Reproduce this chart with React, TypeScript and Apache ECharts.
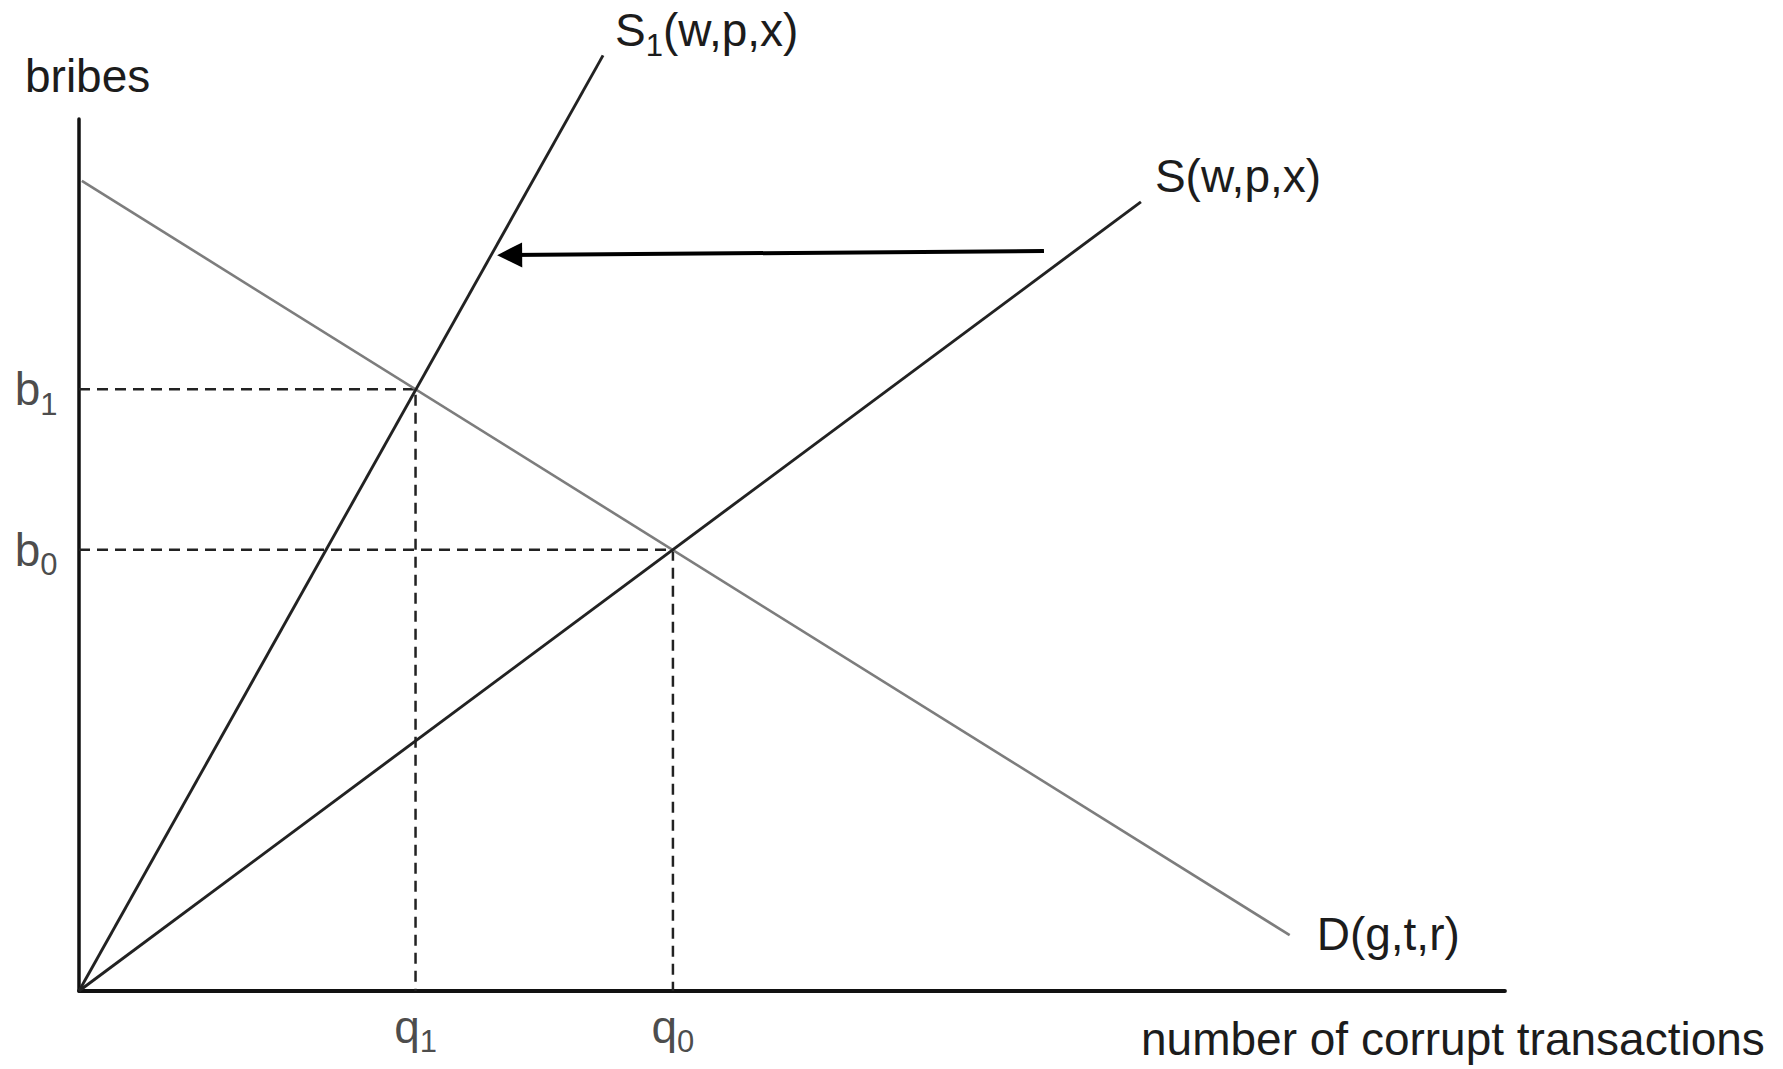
import React, { useEffect, useRef } from "react";
import * as echarts from "echarts";

// ---- data (abstract units: x 0..100, y 0..100) ----
const equilibriumQ = [23.6, 41.65]; // q1, q0
const equilibriumB = [69.0, 50.6]; // b1, b0
const qTickLabels = ["q1", "q0"];
const bTickLabels = ["b1", "b0"];
const demandPoints = [
  [0.2, 92.9],
  [84.9, 6.4],
];
const supplyPoints = [
  [0, 0],
  [74.47, 90.5],
];
const supply1Points = [
  [0, 0],
  [36.75, 107.3],
];
const shiftArrow = [
  [67.67, 84.86],
  [30.2, 84.4],
];
const curveLabels = { s1: ["S", "1", "(w,p,x)"], s: ["S", "", "(w,p,x)"], d: ["D", "", "(g,t,r)"] };
const axisNames = { x: "number of corrupt transactions", y: "bribes" };

const FONT = "Liberation Sans";
const INK = "#1c1c1c";

const rich = {
  m: { fontSize: 46, fontFamily: FONT, color: INK, lineHeight: 52 },
  s: { fontSize: 31, fontFamily: FONT, color: INK, lineHeight: 52, padding: [30, 0, 0, 0] },
};

const fmt = (parts: string[]) =>
  `{m|${parts[0]}}` + (parts[1] ? `{s|${parts[1]}}` : "") + (parts[2] ? `{m|${parts[2]}}` : "");

export default function App() {
  const ref = useRef<HTMLDivElement>(null);
  useEffect(() => {
    document.body.style.margin = "0";
    if (!ref.current) return;
    const chart = echarts.init(ref.current, undefined, { renderer: "svg" });
    const dashStyle = { color: "#222", width: 2.5, type: [11, 7] as any };
    const option: any = {
      animation: false,
      backgroundColor: "#fff",
      textStyle: { fontFamily: FONT },
      grid: { left: 79, right: 278, top: 119, bottom: 78 },
      xAxis: {
        type: "value",
        min: 0,
        max: 100,
        axisLine: { show: true, lineStyle: { color: "#111", width: 3.8 } },
        axisTick: { show: false },
        axisLabel: { show: false },
        splitLine: { show: false },
      },
      yAxis: {
        type: "value",
        min: 0,
        max: 100,
        axisLine: { show: true, lineStyle: { color: "#111", width: 3.5 } },
        axisTick: { show: false },
        axisLabel: { show: false },
        splitLine: { show: false },
      },
      graphic: [
        {
          type: "text",
          x: 25,
          y: 76,
          style: { text: axisNames.y, font: `46px "${FONT}"`, fill: INK, align: "left", verticalAlign: "middle" },
        },
        {
          type: "text",
          x: 1141,
          y: 1039,
          style: { text: axisNames.x, font: `46px "${FONT}"`, fill: INK, align: "left", verticalAlign: "middle" },
        },
      ],
      series: [
        {
          name: "b1 guide",
          type: "line",
          data: [
            [0, equilibriumB[0]],
            [equilibriumQ[0], equilibriumB[0]],
            [equilibriumQ[0], 0],
          ],
          showSymbol: false,
          lineStyle: dashStyle,
          silent: true,
        },
        {
          name: "b0 guide",
          type: "line",
          data: [
            [0, equilibriumB[1]],
            [equilibriumQ[1], equilibriumB[1]],
            [equilibriumQ[1], 0],
          ],
          showSymbol: false,
          lineStyle: dashStyle,
          silent: true,
        },
        {
          name: "D(g,t,r)",
          type: "line",
          data: demandPoints,
          showSymbol: false,
          lineStyle: { color: "#7d7d7d", width: 2.6 },
          endLabel: { show: true, formatter: () => fmt(curveLabels.d), rich, offset: [19, -1] },
          silent: true,
        },
        {
          name: "S(w,p,x)",
          type: "line",
          data: supplyPoints,
          showSymbol: false,
          lineStyle: { color: "#222", width: 2.9 },
          endLabel: { show: true, formatter: () => fmt(curveLabels.s), rich, offset: [6, -26] },
          silent: true,
        },
        {
          name: "S1(w,p,x)",
          type: "line",
          data: supply1Points,
          clip: false,
          showSymbol: false,
          lineStyle: { color: "#222", width: 2.9 },
          endLabel: { show: true, formatter: () => fmt(curveLabels.s1), rich, offset: [4, -25] },
          silent: true,
          markLine: {
            silent: true,
            symbol: ["none", "triangle"],
            symbolSize: 25,
            label: { show: false },
            lineStyle: { color: "#000", width: 4, type: "solid" },
            data: [[{ coord: shiftArrow[0] }, { coord: shiftArrow[1] }]],
          },
        },
        {
          name: "b ticks",
          type: "scatter",
          symbolSize: 1,
          itemStyle: { color: "transparent" },
          data: equilibriumB.map((b, i) => ({ value: [0, b], name: bTickLabels[i] })),
          label: {
            show: true,
            position: "left",
            distance: 21,
            formatter: (p: any) => fmt([p.name[0], p.name.slice(1), ""]),
            rich,
          },
          silent: true,
        },
        {
          name: "q ticks",
          type: "scatter",
          symbolSize: 1,
          itemStyle: { color: "transparent" },
          data: equilibriumQ.map((q, i) => ({ value: [q, 0], name: qTickLabels[i] })),
          label: {
            show: true,
            position: "bottom",
            distance: 9,
            formatter: (p: any) => fmt([p.name[0], p.name.slice(1), ""]),
            rich,
          },
          silent: true,
        },
      ],
    };
    chart.setOption(option);
    return () => chart.dispose();
  }, []);
  return <div ref={ref} style={{ width: 1783, height: 1069 }} />;
}
